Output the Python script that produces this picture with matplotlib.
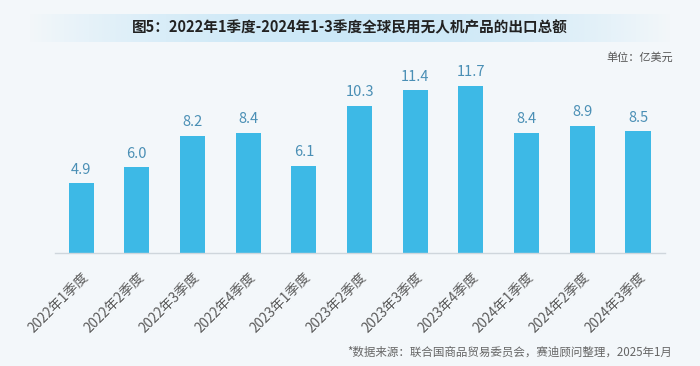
import numpy as np
import matplotlib
matplotlib.use("Agg")
import matplotlib.pyplot as plt

plt.rcParams['font.family'] = ['Noto Sans CJK SC', 'DejaVu Sans']

quarters = ["2022年1季度", "2022年2季度", "2022年3季度", "2022年4季度",
            "2023年1季度", "2023年2季度", "2023年3季度", "2023年4季度",
            "2024年1季度", "2024年2季度", "2024年3季度"]
export_total = [4.9, 6.0, 8.2, 8.4, 6.1, 10.3, 11.4, 11.7, 8.4, 8.9, 8.5]

title = "图5：2022年1季度-2024年1-3季度全球民用无人机产品的出口总额"
unit = "单位：亿美元"
source = "*数据来源：联合国商品贸易委员会，赛迪顾问整理，2025年1月"

bar_color = "#3db9e6"
label_color = "#4a8fb5"

fig = plt.figure(figsize=(7, 3.66), dpi=100)
fig.patch.set_facecolor("#f3f7fa")

# soft blue band behind the title
band = fig.add_axes([0.04, 0.885, 0.92, 0.078])
grad = np.linspace(-1, 1, 300)
alpha = np.clip(1 - np.abs(grad) ** 2, 0, 1)
rgba = np.zeros((1, 300, 4))
rgba[..., 0] = 0.80
rgba[..., 1] = 0.91
rgba[..., 2] = 0.97
rgba[..., 3] = alpha
band.imshow(rgba, aspect="auto", extent=[0, 1, 0, 1])
band.axis("off")

fig.text(0.5, 0.926, title, ha="center", va="center", fontsize=10.5,
         fontweight="bold", color="#222222")
fig.text(0.962, 0.843, unit, ha="right", va="center", fontsize=8, color="#555555")
fig.text(0.96, 0.038, source, ha="right", va="center", fontsize=8.3, color="#666666")

ax = fig.add_axes([0.0786, 0.3087, 0.871, 0.50])
ax.set_facecolor("none")
x = np.arange(len(quarters))
bars = ax.bar(x, export_total, width=0.45, color=bar_color, zorder=2)
for xi, v in zip(x, export_total):
    ax.text(xi, v + 0.45, f"{v:.1f}", ha="center", va="bottom",
            fontsize=10.5, color=label_color)

ax.set_xlim(-0.47, 10.48)
ax.set_ylim(0, 12.8)
ax.set_yticks([])
for s in ["top", "right", "left"]:
    ax.spines[s].set_visible(False)
ax.spines["bottom"].set_color("#cfd6dc")
ax.spines["bottom"].set_linewidth(1)
ax.set_xticks(x)
ax.set_xticklabels(quarters, rotation=45, ha="right", rotation_mode="anchor",
                   fontsize=9.8, color="#5a5a5a")
ax.tick_params(axis="x", length=0, pad=12)

fig.savefig("out.png", dpi=100, facecolor=fig.get_facecolor())
